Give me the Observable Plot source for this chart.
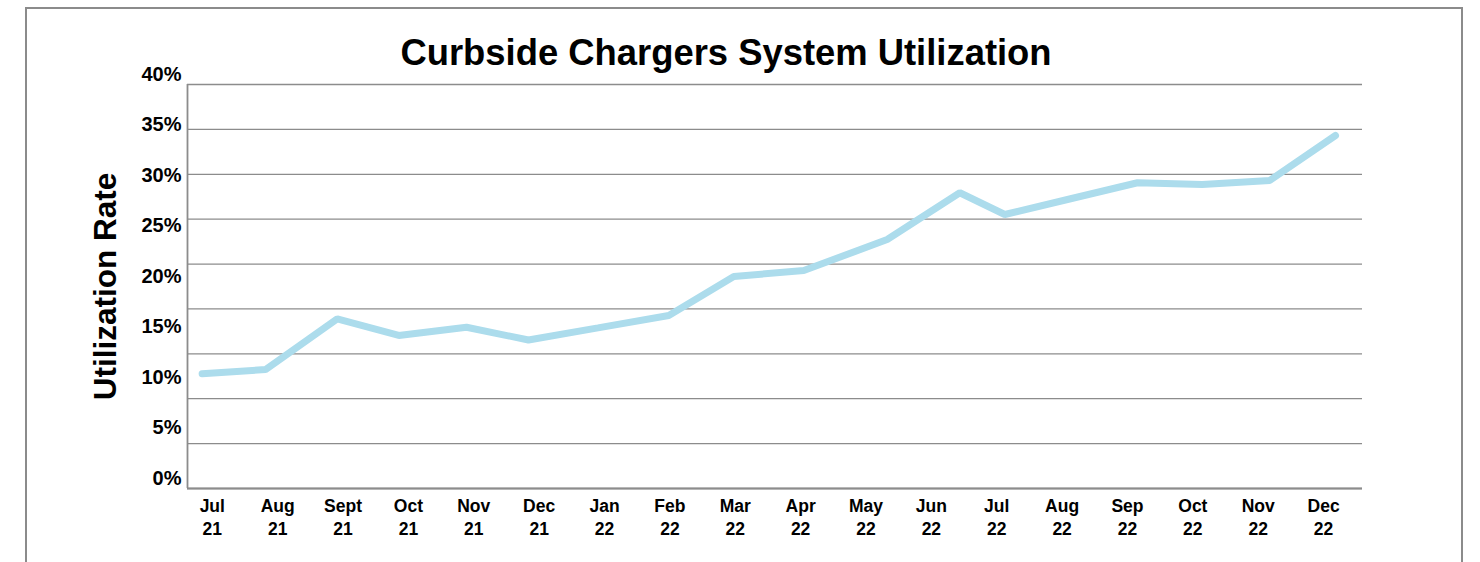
<!DOCTYPE html>
<html>
<head>
<meta charset="utf-8">
<script src="https://cdn.jsdelivr.net/npm/d3@7"></script>
<script src="https://cdn.jsdelivr.net/npm/@observablehq/plot@0.6"></script>
<style>
  html, body { margin: 0; padding: 0; background: #ffffff; }
  #wrap { position: relative; width: 1480px; height: 562px; overflow: hidden; font-family: "Liberation Sans", Arial, Helvetica, sans-serif; }
  #title { width: 1452px; height: 75px; box-sizing: border-box; padding-top: 33px; line-height: 40px; font-size: 36.4px; font-weight: bold; text-align: center; color: #000; white-space: nowrap; }
  #frame { position: absolute; left: 25px; top: 7px; width: 1434px; height: 640px; border: 2.5px solid #8b8b8b; pointer-events: none; }
</style>
</head>
<body>
<div id="wrap">
  <div id="title">Curbside Chargers System Utilization</div>
  <div id="chart"></div>
  <div id="frame"></div>
</div>
<script>
// ---- data ----
const months = ["Jul", "Aug", "Sept", "Oct", "Nov", "Dec", "Jan", "Feb", "Mar", "Apr", "May", "Jun", "Jul", "Aug", "Sep", "Oct", "Nov", "Dec"];
const years = ["21", "21", "21", "21", "21", "21", "22", "22", "22", "22", "22", "22", "22", "22", "22", "22", "22", "22"];
// utilization rate (%) of each month
const utilization = [11.36, 11.78, 16.80, 15.15, 15.97, 14.70, 15.90, 17.13, 20.99, 21.58, 24.65, 29.28, 27.13, 28.69, 30.27, 30.10, 30.50, 34.95];
// horizontal position of each reading along the month axis (month index units, as drawn)
const readingPos = [-0.155, 0.814, 1.911, 2.853, 3.889, 4.837, 5.90, 6.983, 7.978, 9.048, 10.324, 11.435, 12.123, 13.13, 14.153, 15.143, 16.177, 17.182];
const yTicks = [0, 5, 10, 15, 20, 25, 30, 35, 40];
const gridValues = [0, 4.44, 8.89, 13.33, 17.78, 22.22, 26.67, 31.11, 35.56, 40];
const xDomain = [-0.379, 17.595];
const yLabel = "Utilization Rate";

const rows = utilization.map((v, i) => ({pos: readingPos[i], value: v, month: months[i] + " " + years[i]}));
const monthIndex = months.map((_, i) => i);

const chart = Plot.plot({
  width: 1480,
  height: 487,
  marginTop: 9,
  marginBottom: 74,
  marginLeft: 187,
  marginRight: 118,
  style: {fontFamily: "'Liberation Sans', Arial, Helvetica, sans-serif", background: "transparent", overflow: "visible", color: "#000"},
  x: {type: "linear", domain: xDomain},
  y: {domain: [0, 40]},
  marks: [
    Plot.ruleY(gridValues, {stroke: "#8c8c8c", strokeWidth: 1.3}),
    Plot.ruleY([0], {stroke: "#8c8c8c", strokeWidth: 2.2}),
    Plot.ruleX([xDomain[0]], {stroke: "#8c8c8c", strokeWidth: 1.8}),
    Plot.line(rows, {x: "pos", y: "value", stroke: "#acdcec", strokeWidth: 7, strokeLinecap: "round", strokeLinejoin: "miter"}),
    Plot.axisY({ticks: yTicks, tickFormat: d => d + "%", tickSize: 0, tickPadding: 6, fontSize: 20, fontWeight: "bold", dy: -10, label: null}),
    Plot.axisX({ticks: monthIndex, tickFormat: i => months[i] + "\n" + years[i], tickSize: 0, tickPadding: 8, fontSize: 17.5, fontWeight: "bold", lineHeight: 1.27, label: null}),
    Plot.text([yLabel], {text: d => d, frameAnchor: "left", rotate: -90, dx: -82, fontSize: 31.5, fontWeight: "bold", lineAnchor: "middle", textAnchor: "middle"})
  ]
});
document.getElementById("chart").appendChild(chart);
</script>
</body>
</html>
